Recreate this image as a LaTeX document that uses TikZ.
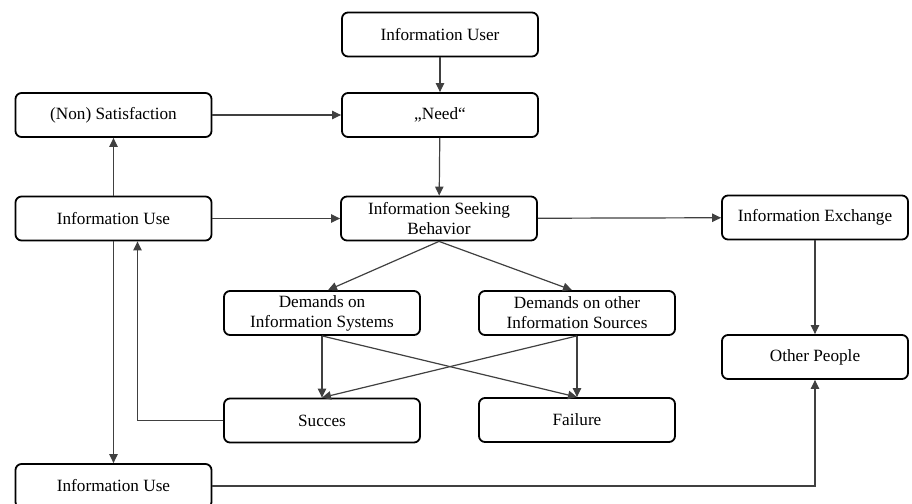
\documentclass[tikz,border=0pt]{standalone}
\usepackage{fontspec}
\setmainfont{Liberation Serif}
\usetikzlibrary{arrows.meta}

\begin{document}
\begin{tikzpicture}[x=0.5pt,y=-0.5pt,
  box/.style={draw,line width=0.9pt,rounded corners=3pt,minimum width=98pt,minimum height=22pt,
    align=center,inner sep=1pt,font=\fontsize{8.6}{10}\selectfont},
  link/.style={-{Triangle[length=4.5pt,width=4.2pt]},draw=black!75,line width=0.6pt}]
\clip (0,0) rectangle (912,504);
% top row
\node[box] (user) at (440,34.5) {Information User};
\node[box] (need) at (440,115) {„Need“};
\node[box] (sat) at (113.5,115) {(Non) Satisfaction};
% middle row
\node[box] (use) at (113.5,218.5) {Information Use};
\node[box] (seek) at (439,218.5) {Information Seeking\\Behavior};
\node[box,minimum width=93pt] (exch) at (815,217.5) {Information Exchange};
% demands
\node[box] (dsys) at (322,313) {Demands on\\Information Systems};
\node[box] (doth) at (577,313) {Demands on other\\Information Sources};
\node[box,minimum width=93pt] (other) at (815,357) {Other People};
% outcomes
\node[box] (succ) at (322,420.5) {Succes};
\node[box] (fail) at (577,420) {Failure};
\node[box] (use2) at (113.5,486) {Information Use};
% arrows
\draw[link] (user) -- (need);
\draw[link] (sat) -- (need);
\draw[link] (need) -- (seek);
\draw[link] (use) -- (seek);
\draw[link] (use) -- (sat);
\draw[link] (seek) -- (exch);
\draw[link] (exch) -- (other);
\draw[link] (seek.south) -- ([xshift=3pt]dsys.north);
\draw[link] (seek.south) -- ([xshift=-2.5pt]doth.north);
\draw[link] (dsys.south) -- (succ.north);
\draw[link] (dsys.south) -- (fail.north);
\draw[link] (doth.south) -- (fail.north);
\draw[link] (doth.south) -- (succ.north);
% feedback lines
\draw[link] (succ.west) -| ([xshift=12pt]use.south);
\draw[link] (use.south) -- (use2.north);
\draw[link] (use2.east) -| (other.south);
\end{tikzpicture}
\end{document}
